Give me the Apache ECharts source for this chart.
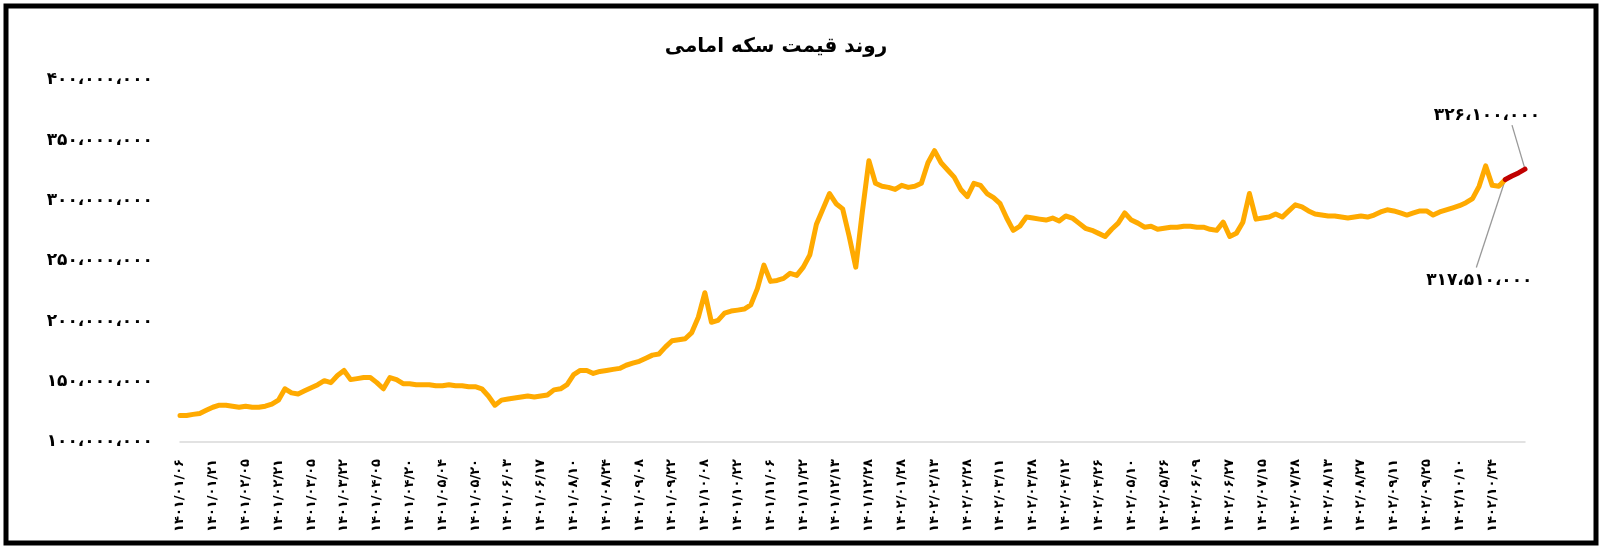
<!DOCTYPE html>
<html>
<head>
<meta charset="utf-8">
<title>روند قیمت سکه امامی</title>
<script src="https://cdn.jsdelivr.net/npm/echarts@6/dist/echarts.min.js"></script>
<style>
  html, body { margin: 0; padding: 0; background: #fff; }
  #chart { width: 1602px; height: 549px; }
</style>
</head>
<body>
<div id="chart"></div>
<script>
// date labels shown on the x axis, one every 5 points
var tickLabels = [
  "1401/01/06", "1401/01/21", "1401/02/05", "1401/02/21", "1401/03/05", "1401/03/22",
  "1401/04/05", "1401/04/20", "1401/05/04", "1401/05/20", "1401/06/03", "1401/06/17",
  "1401/08/10", "1401/08/24", "1401/09/08", "1401/09/22", "1401/10/08", "1401/10/22",
  "1401/11/06", "1401/11/22", "1401/12/13", "1401/12/28", "1402/01/28", "1402/02/13",
  "1402/02/28", "1402/03/11", "1402/03/28", "1402/04/12", "1402/04/26", "1402/05/10",
  "1402/05/26", "1402/06/09", "1402/06/27", "1402/07/15", "1402/07/28", "1402/08/13",
  "1402/08/27", "1402/09/11", "1402/09/25", "1402/10/10", "1402/10/24"
];
var pointsPerTick = 5;

// coin price, million rials
var priceM = [
  122.0, 122.0, 122.9, 123.7, 126.3, 128.8, 130.5, 130.5, 129.7, 128.8,
  129.7, 128.8, 128.8, 129.7, 131.4, 134.7, 144.1, 140.7, 139.8, 142.4,
  144.9, 147.5, 150.8, 149.2, 155.1, 159.3, 151.7, 152.5, 153.4, 153.4,
  149.2, 144.1, 153.4, 151.7, 148.3, 148.3, 147.5, 147.5, 147.5, 146.6,
  146.6, 147.5, 146.6, 146.6, 145.8, 145.8, 144.1, 138.1, 130.5, 134.7,
  135.6, 136.4, 137.3, 138.1, 137.3, 138.1, 139.0, 143.2, 144.1, 147.5,
  155.9, 159.3, 159.3, 156.8, 158.5, 159.3, 160.2, 161.0, 163.6, 165.3,
  166.9, 169.5, 172.0, 172.9, 178.8, 183.9, 184.7, 185.6, 190.7, 203.4,
  223.7, 199.2, 200.8, 206.8, 208.5, 209.3, 210.2, 213.6, 227.1, 246.6,
  233.1, 233.9, 235.6, 239.8, 238.1, 244.9, 255.1, 280.5, 293.2, 305.9,
  297.5, 293.2, 270.3, 244.9, 290.7, 333.1, 314.4, 311.9, 311.0, 309.3,
  312.7, 311.0, 311.9, 314.4, 331.4, 341.5, 331.4, 325.4, 319.5, 309.3,
  303.4, 314.4, 312.7, 305.9, 302.5, 297.5, 285.6, 275.4, 278.8, 286.4,
  285.6, 284.7, 283.9, 285.6, 283.1, 287.3, 285.6, 281.4, 277.1, 275.4,
  272.9, 270.3, 276.3, 281.4, 289.8, 283.9, 281.4, 278.0, 278.8, 276.3,
  277.1, 278.0, 278.0, 278.8, 278.8, 278.0, 278.0, 276.3, 275.4, 282.2,
  270.3, 272.9, 282.2, 305.9, 284.7, 285.6, 286.4, 289.0, 286.4, 291.5,
  296.6, 294.9, 291.5, 289.0, 288.1, 287.3, 287.3, 286.4, 285.6, 286.4,
  287.3, 286.4, 288.1, 290.7, 292.4, 291.5, 289.8, 288.1, 289.8, 291.5,
  291.5, 288.1, 290.7, 292.4, 294.1, 295.8, 298.3, 301.7, 311.9, 328.8,
  312.7, 311.9, 317.51, 320.4, 323.0, 326.1
];
// last stretch drawn in red, starting at this index
var recentStart = 202;
var lastIndex = priceM.length - 1;

var yMin = 100, yMax = 400, yStep = 50;

function fa(s) {
  return String(s).replace(/\d/g, function (d) { return "۰۱۲۳۴۵۶۷۸۹"[d]; });
}
function faMoney(m) {
  var n = Math.round(m * 1e6).toString().replace(/\B(?=(\d{3})+(?!\d))/g, "،");
  return fa(n);
}

var categories = priceM.map(function (v, i) {
  return i % pointsPerTick === 0 ? fa(tickLabels[i / pointsPerTick] || "") : "";
});
var mainData = priceM.map(function (v, i) { return i <= recentStart ? v : null; });
var recentData = priceM.map(function (v, i) { return i >= recentStart ? v : null; });

var chart = echarts.init(document.getElementById("chart"));
var font = "DejaVu Sans";

var frame = {
  type: "rect",
  shape: { x: 6, y: 6, width: 1590, height: 537 },
  style: { fill: null, stroke: "#000", lineWidth: 5 },
  silent: true
};

var option = {
  backgroundColor: "#fff",
  animation: false,
  title: {
    text: "روند قیمت سکه امامی",
    left: 771,
    top: 32,
    textAlign: "center",
    textStyle: { fontFamily: font, fontSize: 20, fontWeight: "bold", color: "#000" }
  },
  grid: { left: 180, right: 77, top: 80, bottom: 107 },
  xAxis: {
    type: "category",
    boundaryGap: false,
    data: categories,
    axisLine: { lineStyle: { color: "#d9d9d9", width: 1.5 } },
    axisTick: { show: false },
    axisLabel: {
      interval: 0,
      rotate: 90,
      margin: 17,
      fontFamily: font,
      fontSize: 13,
      fontWeight: "bold",
      color: "#000"
    }
  },
  yAxis: {
    type: "value",
    min: yMin,
    max: yMax,
    interval: yStep,
    splitLine: { show: false },
    axisLine: { show: false },
    axisTick: { show: false },
    axisLabel: {
      margin: 27,
      fontFamily: font,
      fontSize: 17,
      fontWeight: "bold",
      color: "#000",
      formatter: function (v) { return faMoney(v); }
    }
  },
  series: [
    {
      type: "line",
      data: mainData,
      showSymbol: false,
      lineStyle: { color: "#FFAA00", width: 5, join: "round", cap: "round" },
      z: 2
    },
    {
      type: "line",
      data: recentData,
      showSymbol: false,
      lineStyle: { color: "#C00000", width: 5, join: "round", cap: "round" },
      z: 3
    }
  ],
  graphic: [frame]
};

chart.setOption(option);

// callouts for the first and last red points, with leader lines
function callout(idx, dx, dy, lx, ly) {
  var p = chart.convertToPixel({ seriesIndex: 1 }, [idx, priceM[idx]]);
  return [
    {
      type: "line",
      shape: { x1: p[0] + lx, y1: p[1] + ly, x2: p[0], y2: p[1] },
      style: { stroke: "#999", lineWidth: 1.3 },
      silent: true
    },
    {
      type: "text",
      x: p[0] + dx,
      y: p[1] + dy,
      style: {
        text: faMoney(priceM[idx]),
        font: "bold 17px " + font,
        fill: "#000",
        align: "center",
        verticalAlign: "middle"
      },
      silent: true
    }
  ];
}

chart.setOption({
  graphic: [frame]
    .concat(callout(lastIndex, -38, -54, -13, -44))
    .concat(callout(recentStart, -26, 101, -29, 88))
});
</script>
</body>
</html>
